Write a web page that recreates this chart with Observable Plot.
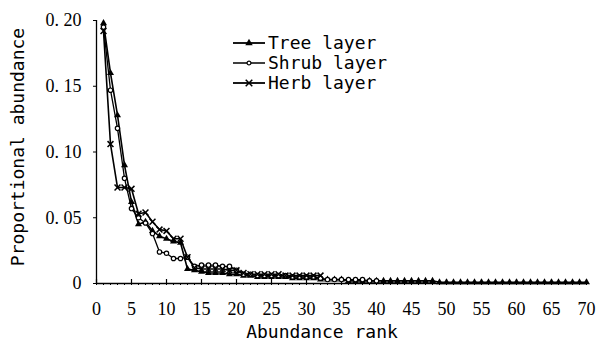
<!DOCTYPE html>
<html>
<head>
<meta charset="utf-8">
<script src="https://cdn.jsdelivr.net/npm/d3@7"></script>
<script src="https://cdn.jsdelivr.net/npm/@observablehq/plot@0.6"></script>
<style>
  html, body { margin: 0; padding: 0; background: #fff; }
  #chart { width: 598px; height: 344px; }
</style>
</head>
<body>
<div id="chart"></div>
<script>
const seriesNames = ["Tree layer", "Shrub layer", "Herb layer"];
const treeValues = [0.198,0.160,0.128,0.090,0.062,0.045,0.047,0.040,0.036,0.034,
  0.032,0.031,0.011,0.010,0.009,0.008,0.008,0.008,0.007,0.007,
  0.006,0.006,0.005,0.005,0.005,0.005,0.005,0.004,0.004,0.004,
  0.004,0.003,0.003,0.003,0.003,0.002,0.002,0.002,0.002,0.002,
  0.002,0.002,0.002,0.002,0.002,0.002,0.002,0.002,0.001,0.001,
  0.001,0.001,0.001,0.001,0.001,0.001,0.001,0.001,0.001,0.001,
  0.001,0.001,0.001,0.001,0.001,0.001,0.001,0.001,0.001,0.001];
const shrubValues = [0.195,0.147,0.118,0.080,0.057,0.050,0.046,0.038,0.024,0.023,
  0.019,0.019,0.020,0.013,0.014,0.014,0.014,0.013,0.013,0.010,
  0.007,0.007,0.006,0.006,0.006,0.006,0.006,0.005,0.005,0.005,
  0.005,0.004,0.003,0.003,0.003,0.003,0.003,0.003,0.002,0.002];
const herbValues = [0.192,0.106,0.073,0.073,0.072,0.053,0.054,0.047,0.041,0.040,
  0.034,0.034,0.020,0.012,0.011,0.011,0.011,0.011,0.010,0.010,
  0.008,0.007,0.007,0.007,0.007,0.007,0.006,0.006,0.006,0.006,
  0.006,0.006];
const xTicks = [0,5,10,15,20,25,30,35,40,45,50,55,60,65,70];
const yTicks = [0,0.05,0.10,0.15,0.20];
const yTickLabels = ["0","0.\u00a005","0.\u00a010","0.\u00a015","0.\u00a020"];
const xLabel = "Abundance rank";
const yLabel = "Proportional abundance";

const toRows = (vals, name) => vals.map((v, i) => ({rank: i + 1, value: v, series: name}));
const tree = toRows(treeValues, seriesNames[0]);
const shrub = toRows(shrubValues, seriesNames[1]);
const herb = toRows(herbValues, seriesNames[2]);

const serifFont = "serif";
const monoFont = "monospace";

const plot = Plot.plot({
  width: 598,
  height: 344,
  marginLeft: 96,
  marginRight: 12,
  marginTop: 20,
  marginBottom: 61,
  style: {background: "#fff", color: "#000", fontSize: "18px", fontFamily: serifFont},
  x: {domain: [0, 70]},
  y: {domain: [0, 0.2]},
  marks: [
    Plot.ruleY([0], {stroke: "#000", strokeWidth: 1.3}),
    Plot.ruleX([0], {stroke: "#000", strokeWidth: 1.3}),
    Plot.axisX(d3.range(0, 71), {tickSize: 2, text: null, stroke: "#000", label: null}),
    Plot.tickX(xTicks, {x: d => d, insetTop: 259, stroke: "#000", strokeWidth: 1.2}),
    Plot.axisX(xTicks, {tickSize: 0, tickPadding: 19, fontSize: 18, fontFamily: serifFont, label: null, tickFormat: d => String(d)}),
    Plot.axisY(yTicks, {tickSize: 3, tickPadding: 12, fontSize: 18, fontFamily: serifFont, label: null,
      tickFormat: d => yTickLabels[yTicks.indexOf(d)], stroke: "#000"}),
    Plot.line(tree, {x: "rank", y: "value", stroke: "#000", strokeWidth: 1.6}),
    Plot.line(shrub, {x: "rank", y: "value", stroke: "#000", strokeWidth: 1.3}),
    Plot.line(herb, {x: "rank", y: "value", stroke: "#000", strokeWidth: 1.6}),
    Plot.dot(tree, {x: "rank", y: "value", symbol: "triangle", r: 2.6, fill: "#000"}),
    Plot.dot(shrub, {x: "rank", y: "value", symbol: "circle", r: 2.2, fill: "#fff", stroke: "#000", strokeWidth: 1.2}),
    Plot.dot(herb, {x: "rank", y: "value", symbol: "times", r: 2.8, stroke: "#000", strokeWidth: 1.5})
  ]
});

const svg = d3.select(plot);
svg.append("text")
  .attr("x", 322).attr("y", 338)
  .attr("text-anchor", "middle")
  .attr("font-family", monoFont).attr("font-size", 18).attr("fill", "#000")
  .text(xLabel);
svg.append("text")
  .attr("transform", "translate(24,147) rotate(-90)")
  .attr("text-anchor", "middle")
  .attr("font-family", monoFont).attr("font-size", 18).attr("fill", "#000")
  .text(yLabel);

// legend
const symbolTypes = [d3.symbolTriangle, d3.symbolCircle, d3.symbolTimes];
const legend = svg.append("g").attr("transform", "translate(233,43)");
seriesNames.forEach((name, i) => {
  const g = legend.append("g").attr("transform", `translate(0,${i * 20})`);
  g.append("line").attr("x1", 0).attr("x2", 32).attr("y1", 0).attr("y2", 0)
    .attr("stroke", "#000").attr("stroke-width", i === 1 ? 1.5 : 1.8);
  const size = i === 2 ? 30 : i === 1 ? 12 : 24;
  const p = g.append("path").attr("transform", "translate(16,0)")
    .attr("d", d3.symbol(symbolTypes[i], size)());
  if (i === 0) p.attr("fill", "#000");
  else if (i === 1) p.attr("fill", "#fff").attr("stroke", "#000").attr("stroke-width", 1.2);
  else p.attr("fill", "none").attr("stroke", "#000").attr("stroke-width", 1.5);
  g.append("text").attr("x", 35).attr("y", 0).attr("dy", "0.35em")
    .attr("text-anchor", "start")
    .attr("font-family", monoFont).attr("font-size", 18).attr("fill", "#000")
    .text(name);
});

document.getElementById("chart").appendChild(plot);
</script>
</body>
</html>
